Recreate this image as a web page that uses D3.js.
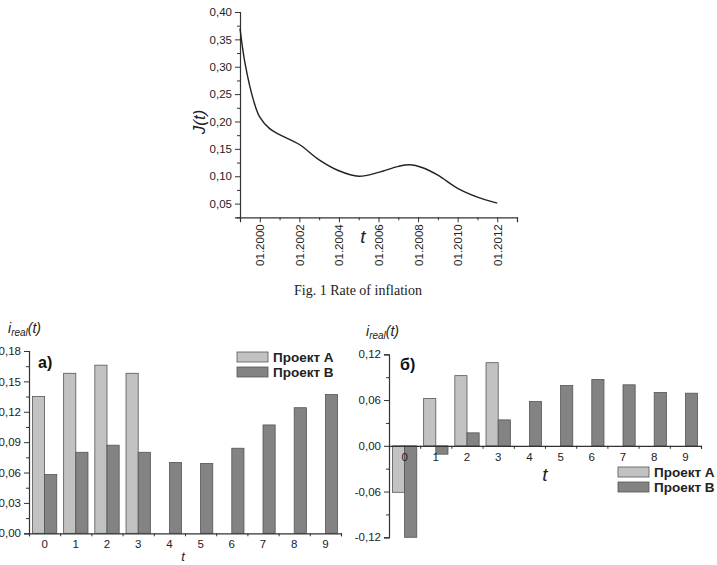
<!DOCTYPE html>
<html><head><meta charset="utf-8">
<script src="https://cdn.jsdelivr.net/npm/d3@7"></script>
<style>
body{margin:0;background:#fff;}
svg{display:block;font-family:"Liberation Sans",Arial,sans-serif;}
</style></head>
<body>
<svg id="c" width="717" height="565"></svg>
<script>
// ---- Data ----
const inflYears = [1999.0,1999.25,1999.68,2000,2000.5,2001,2002,2003,2004,2005,2006,2007,2007.6,2008.2,2009,2010,2011,2012];
const inflValues = [0.37,0.307,0.239,0.208,0.187,0.176,0.158,0.13,0.11,0.10,0.107,0.118,0.121,0.116,0.102,0.078,0.062,0.051];
const inflYTicks = [0.05,0.10,0.15,0.20,0.25,0.30,0.35,0.40];
const inflXTicks = [2000,2002,2004,2006,2008,2010,2012];

const periods = [0,1,2,3,4,5,6,7,8,9];
const seriesNames = ["Проект А","Проект В"];
const aA = [0.135,0.158,0.166,0.158,null,null,null,null,null,null];
const aB = [0.058,0.080,0.087,0.080,0.070,0.069,0.084,0.107,0.124,0.137];
const aYTicks = [0,0.03,0.06,0.09,0.12,0.15,0.18];
const bA = [-0.061,0.062,0.092,0.109,null,null,null,null,null,null];
const bB = [-0.12,-0.011,0.017,0.034,0.058,0.079,0.087,0.080,0.070,0.069];
const bYTicks = [-0.12,-0.06,0,0.06,0.12];

const colA = "#c2c2c2", colB = "#838383", edge = "#555";
const svg = d3.select("#c");
const fmt = v => (v < -1e-9 ? "-" : "") + Math.abs(v).toFixed(2).replace(".", ",");

function styleAxis(g){
  g.selectAll("path.domain").attr("stroke","#333").attr("stroke-width",1.2);
  g.selectAll(".tick line").attr("stroke","#333").attr("stroke-width",1);
  g.selectAll(".tick text").attr("fill","#222").style("font-size","11.5px");
}

// ---- Top chart ----
{
  const x = d3.scaleLinear().domain([1999,2013]).range([240,517]);
  const y = d3.scaleLinear().domain([0.025,0.40]).range([217.3,12]);
  const gy = svg.append("g").attr("transform","translate(240,0)")
    .call(d3.axisLeft(y).tickValues(inflYTicks).tickFormat(fmt).tickSize(5).tickPadding(3));
  styleAxis(gy);
  const minorY = d3.range(0.025,0.40,0.05).map(v=>+v.toFixed(3));
  const gym = svg.append("g").attr("transform","translate(240,0)")
    .call(d3.axisLeft(y).tickValues(minorY).tickFormat("").tickSize(3));
  styleAxis(gym); gym.select("path.domain").remove();

  const gx = svg.append("g").attr("transform","translate(0,217.3)")
    .call(d3.axisBottom(x).tickValues(inflXTicks).tickFormat(d=>"01."+d).tickSize(5));
  styleAxis(gx);
  gx.selectAll(".tick text").attr("transform","rotate(-90)").attr("x",-7).attr("y",0)
    .attr("dy","0.35em").style("text-anchor","end");
  const gxm = svg.append("g").attr("transform","translate(0,217.3)")
    .call(d3.axisBottom(x).tickValues([2001,2003,2005,2007,2009,2011,2013]).tickFormat("").tickSize(3));
  styleAxis(gxm); gxm.select("path.domain").remove();

  const line = d3.line().x((d,i)=>x(inflYears[i])).y(d=>y(d)).curve(d3.curveCatmullRom.alpha(0.5));
  svg.append("path").datum(inflValues).attr("d",line).attr("fill","none")
    .attr("stroke","#222").attr("stroke-width",1.4);

  svg.append("text").attr("transform","translate(205,122) rotate(-90)")
    .attr("text-anchor","middle").style("font-size","17px").style("font-style","italic")
    .attr("fill","#222").text("J(t)");
  svg.append("text").attr("x",363).attr("y",243).attr("text-anchor","middle")
    .style("font-size","19px").style("font-style","italic").attr("fill","#222").text("t");
  svg.append("text").attr("x",358).attr("y",295).attr("text-anchor","middle")
    .style("font-family","'Liberation Serif','Times New Roman',serif").style("font-size","14px")
    .attr("fill","#222").text("Fig. 1 Rate of inflation");
}

function yLabel(xp, yp){
  const t = svg.append("text").attr("x",xp).attr("y",yp).attr("fill","#222")
    .style("font-style","italic").style("font-size","14px");
  t.append("tspan").text("i");
  t.append("tspan").attr("dy",3).style("font-size","10px").text("real");
  t.append("tspan").attr("dy",-3).text("(t)");
}

function barChart(opt){
  const x = d3.scaleLinear().domain([-0.5,9.5]).range(opt.xr);
  const y = d3.scaleLinear().domain(opt.yd).range(opt.yr);
  const bw = 0.39;
  const gy = svg.append("g").attr("transform",`translate(${opt.xr[0]},0)`)
    .call(d3.axisLeft(y).tickValues(opt.yt).tickFormat(fmt).tickSize(5).tickPadding(3));
  styleAxis(gy);
  const gym = svg.append("g").attr("transform",`translate(${opt.xr[0]},0)`)
    .call(d3.axisLeft(y).tickValues(opt.ym).tickFormat("").tickSize(3));
  styleAxis(gym); gym.select("path.domain").remove();

  const series = [[opt.A, colA, -bw],[opt.B, colB, 0]];
  series.forEach(([vals,col,off])=>{
    svg.append("g").selectAll("rect").data(periods.filter(p=>vals[p]!==null)).join("rect")
      .attr("x",p=>x(p+off)).attr("width",x(bw)-x(0))
      .attr("y",p=>Math.min(y(vals[p]),y(0))).attr("height",p=>Math.abs(y(vals[p])-y(0)))
      .attr("fill",col).attr("stroke",edge).attr("stroke-width",0.8);
  });

  const gx = svg.append("g").attr("transform",`translate(0,${y(0)})`)
    .call(d3.axisBottom(x).tickValues(d3.range(-0.5,10,1)).tickFormat("").tickSize(3));
  styleAxis(gx);
  svg.append("g").selectAll("text").data(periods).join("text")
    .attr("x",p=>x(p)).attr("y",opt.labY).attr("text-anchor","middle")
    .style("font-size","11.5px").attr("fill","#222").text(p=>p);
  svg.append("text").attr("x",opt.tX).attr("y",opt.tY).attr("text-anchor","middle")
    .style("font-size",opt.tSize).style("font-style","italic").attr("fill","#222").text("t");
  svg.append("text").attr("x",opt.tagX).attr("y",opt.tagY).style("font-size","16px")
    .style("font-weight","bold").attr("fill","#111").text(opt.tag);
  yLabel(opt.ylX, opt.ylY);
  [colA,colB].forEach((c,i)=>{
    svg.append("rect").attr("x",opt.legX).attr("y",opt.legY+i*15).attr("width",31).attr("height",10)
      .attr("fill",c).attr("stroke",edge).attr("stroke-width",0.8);
    svg.append("text").attr("x",opt.legX+36).attr("y",opt.legY+i*15+10)
      .style("font-size","13.5px").style("font-weight","bold").attr("fill","#222").text(seriesNames[i]);
  });
}

barChart({xr:[29,341], yd:[0,0.18], yr:[533.3,351], yt:aYTicks,
  ym:[0.015,0.045,0.075,0.105,0.135,0.165], A:aA, B:aB, labY:548,
  tX:183, tY:561, tSize:"13px", tag:"a)", tagX:38, tagY:368, ylX:8, ylY:333, legX:237, legY:352});

barChart({xr:[389,701], yd:[-0.12,0.12], yr:[537.3,354.3], yt:bYTicks,
  ym:[-0.09,-0.03,0.03,0.09], A:bA, B:bB, labY:461,
  tX:545, tY:481, tSize:"19px", tag:"б)", tagX:400, tagY:370, ylX:366, ylY:336, legX:618, legY:467});
</script>
</body></html>
